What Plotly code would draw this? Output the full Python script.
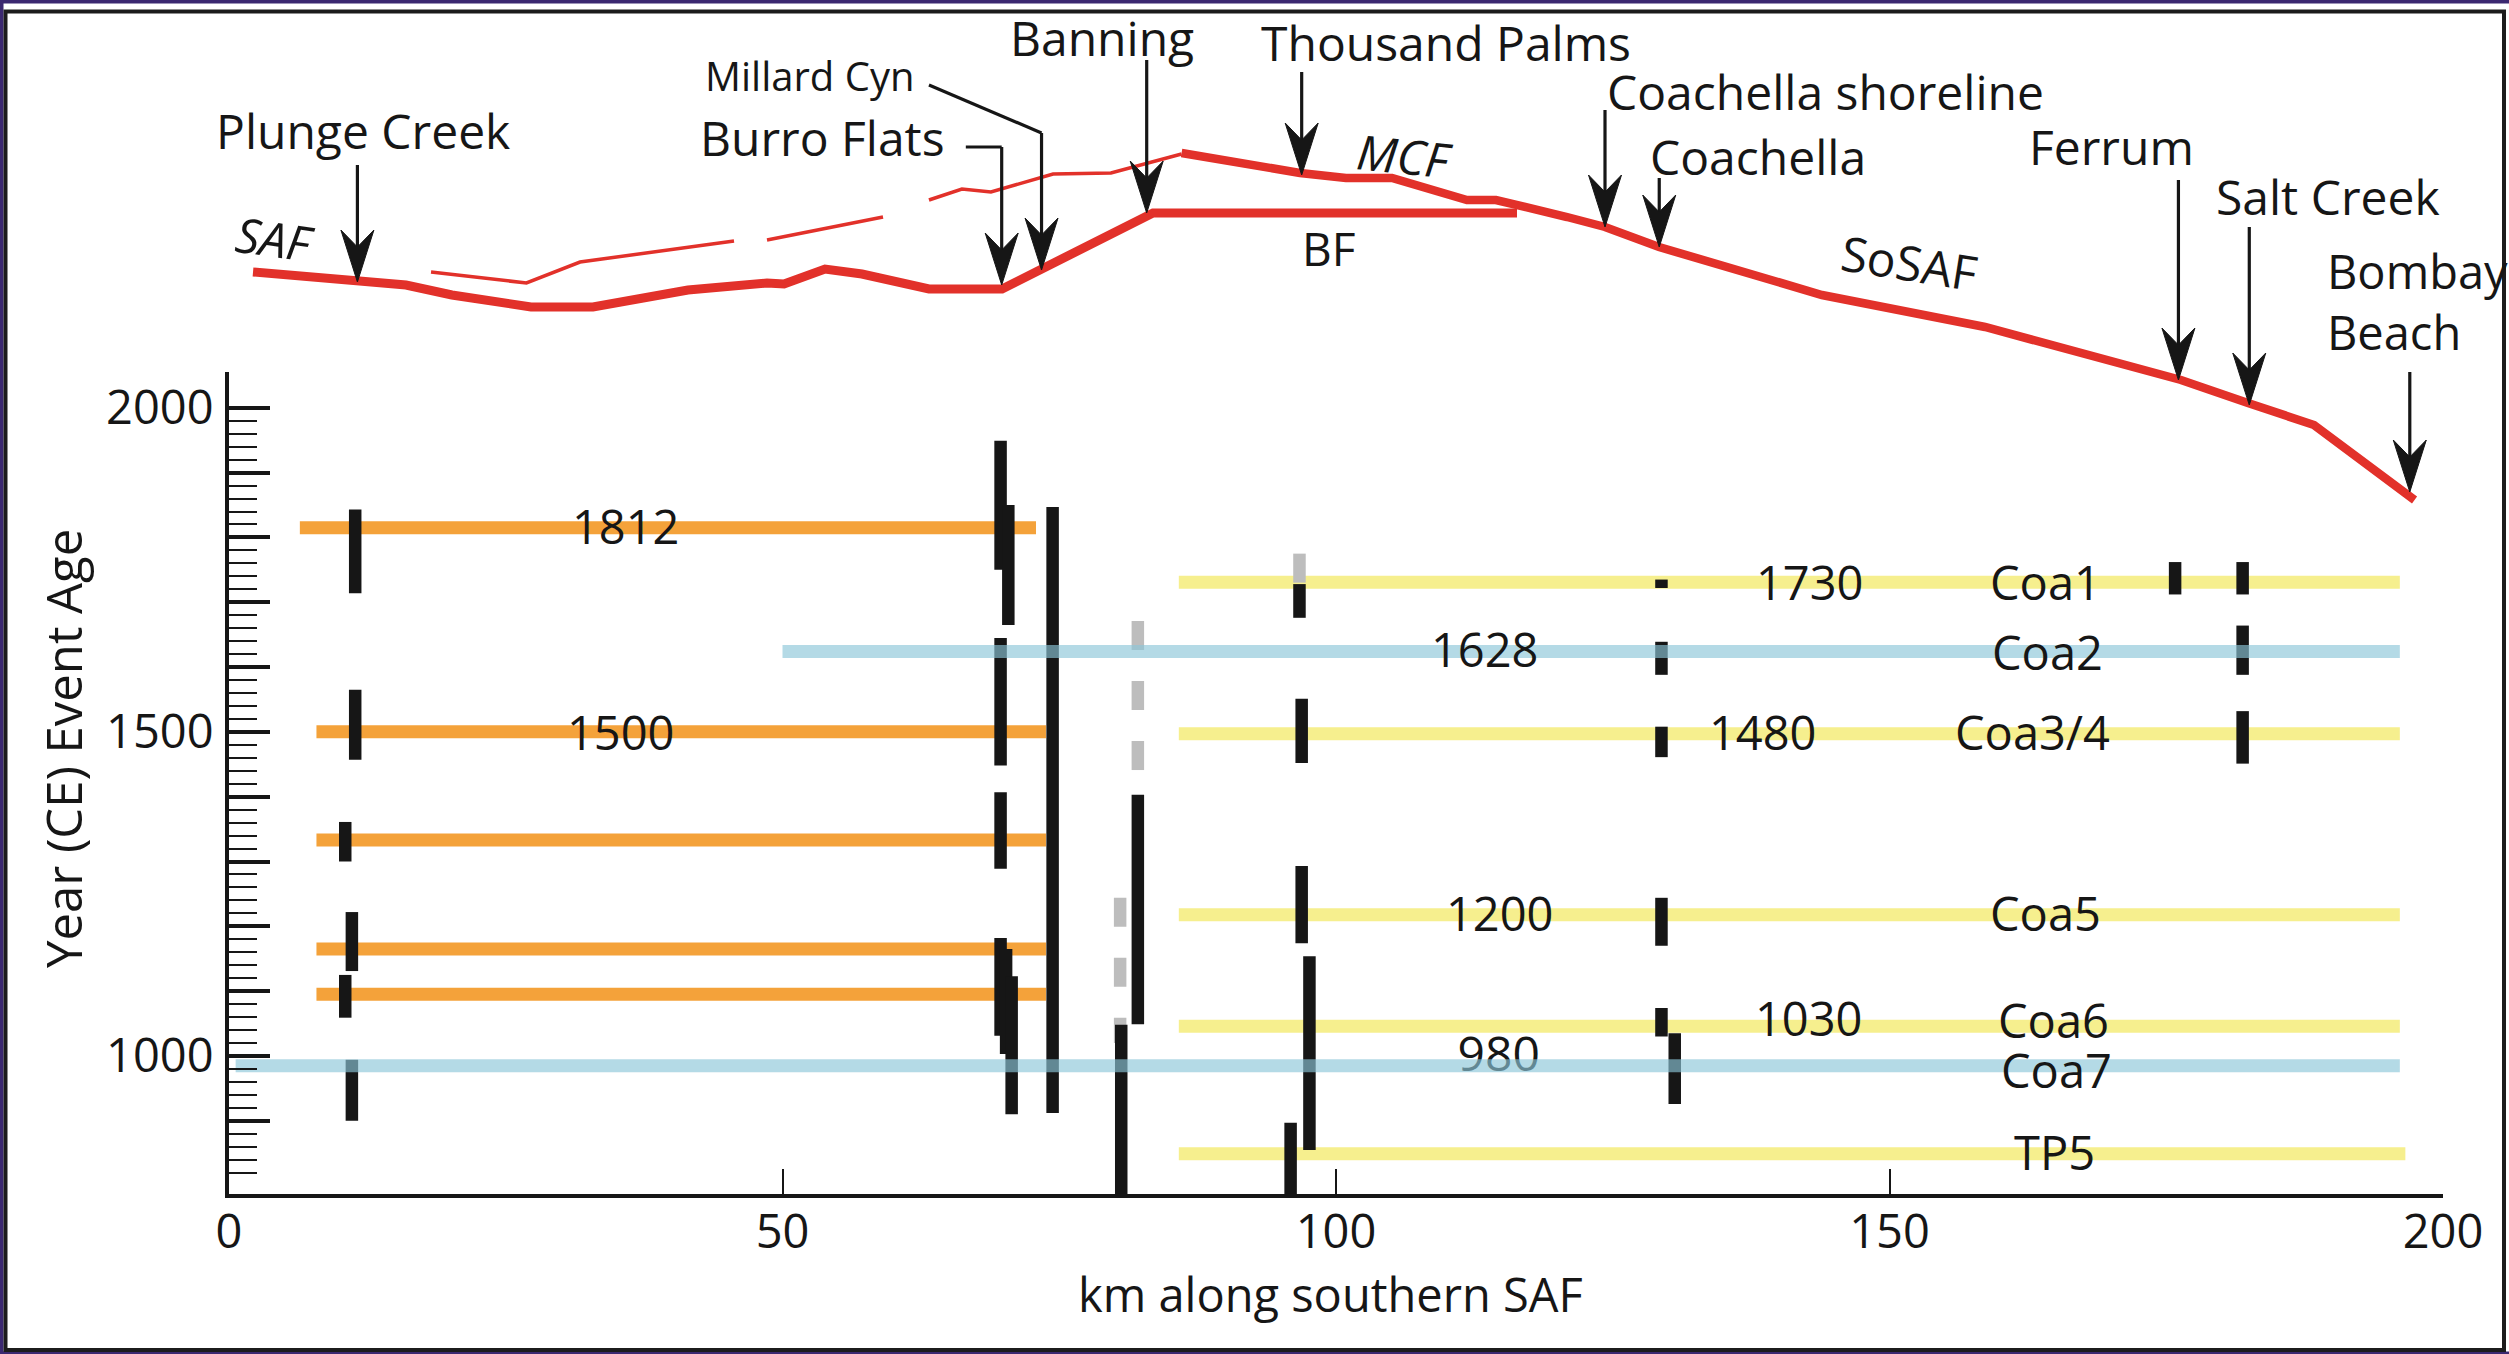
import plotly.graph_objects as go

# ------------------------------------------------------------------ data
# horizontal correlation lines: year, start km, end km
orange_year = [1815, 1500, 1333, 1165, 1095]
orange_start = [6.4, 7.9, 7.9, 7.9, 7.9]
orange_end = [72.9, 73.8, 73.8, 73.8, 73.8]

yellow_year = [1731, 1497, 1218, 1046, 849]
yellow_start = [85.8, 85.8, 85.8, 85.8, 85.8]
yellow_end = [196.1, 196.1, 196.1, 196.1, 196.6]

blue_year = [1624, 985]
blue_start = [50.0, 0.6]
blue_end = [196.1, 196.1]

# site event-age ranges: km, young end, old end
bar_km = [11.4, 11.4, 10.5, 11.1, 10.5, 11.1,
          69.7, 70.4, 69.7, 69.7, 69.7, 70.2, 70.7, 74.4,
          82.1, 80.6,
          96.7, 96.9, 96.9, 97.6, 95.9,
          129.4, 129.4, 129.4, 129.4, 129.4, 130.6,
          175.8, 181.9, 181.9, 181.9]
bar_young = [1843, 1565, 1361, 1222, 1125, 994,
             1949, 1850, 1645, 1407, 1182, 1165, 1123, 1847,
             1403, 1048,
             1728, 1551, 1293, 1154, 897,
             1735, 1639, 1508, 1244, 1074, 1035,
             1762, 1762, 1664, 1532]
bar_old = [1714, 1457, 1300, 1131, 1059, 900,
           1750, 1665, 1448, 1289, 1031, 1003, 910, 912,
           1049, 787,
           1676, 1452, 1174, 855, 787,
           1722, 1588, 1461, 1170, 1030, 926,
           1712, 1712, 1588, 1451]

# uncertain (grey dashed) ranges
grey_km = [82.1, 80.5, 96.7]
grey_young = [1671, 1244, 1775]
grey_old = [1429, 1020, 1728]

# event labels in the chart body
label_text = ["1812", "1500", "1628", "1730", "Coa1", "Coa2", "1480", "Coa3/4",
              "1200", "Coa5", "1030", "Coa6", "Coa7", "TP5"]
label_km = [35.9, 35.4, 113.5, 142.8, 164.1, 164.3, 138.6, 162.9,
            114.8, 164.1, 142.7, 164.8, 165.1, 164.9]
label_year = [1818, 1500, 1628, 1731, 1731, 1623, 1500, 1500,
              1221, 1221, 1059, 1056, 979, 852]
faint_label = "980"
faint_km = 114.7
faint_year = 995

# schematic fault traces (km along fault, schematic map offset)
saf_km = [2.17, 11.56, 15.99, 20.14, 27.28, 32.88, 41.46, 48.60, 50.14, 53.84,
          57.18, 63.23, 69.83, 83.47, 116.35]
saf_off = [1082, 1073, 1069, 1059, 1047, 1047, 1064, 1071, 1070, 1085,
           1080, 1065, 1065, 1141, 1141]
sosaf_km = [86.05, 96.75, 100.9, 105.06, 111.83, 114.45, 120.87, 124.3, 129.18,
            143.9, 158.63, 172.18, 176.33, 182.38, 188.35, 197.43]
sosaf_off = [1201, 1181, 1176, 1176, 1154, 1154, 1137, 1127, 1107,
             1059, 1027, 987, 974, 951, 929, 854]
thin_km = [18.25, 26.87, 31.71, 36.22, 45.62, None, 48.6, 59.08, None,
           63.23, 66.21, 68.83, 74.44, 79.67, 86.05]
thin_off = [1082, 1071, 1092, 1099, 1113, None, 1114, 1137, None,
            1154, 1165, 1162, 1180, 1181, 1200]

# site arrows
site_name = ["Plunge Creek", "Burro Flats", "Millard Cyn", "Banning", "Thousand Palms",
             "Coachella shoreline", "Coachella", "Ferrum", "Salt Creek", "Bombay<br>Beach"]
arrow_km = [11.6, 69.8, 73.4, 82.9, 96.9, 124.3, 129.2, 176.1, 182.5, 197.0]
arrow_tip = [1072, 1069, 1084, 1141, 1179, 1127, 1107, 974, 949, 862]
arrow_top = [1189, 1207, 1221, 1294, 1282, 1244, 1176, 1174, 1127, 982]
site_label_km = [12.1, 53.57, 52.48, 78.86, 109.94, 144.26, 138.12, 170.01, 189.61, 189.34]
site_label_off = [1223.5, 1216.5, 1279, 1316.5, 1311.5, 1263, 1197.5, 1207.5, 1157.5, 1052.5]
burro_leader_km = [66.56, 69.8]
burro_leader_off = [1207, 1207]
millard_leader_km = [63.23, 73.4]
millard_leader_off = [1269, 1221]

fault_name = ["<i>SAF</i>", "<i>MCF</i>", "BF", "SoSAF"]
fault_label_km = [4.16, 106.23, 99.28, 151.85]
fault_label_off = [1116, 1199, 1106, 1092]
fault_label_angle = [8, 6, 0, 9]

x_tick_vals = [0, 50, 100, 150, 200]
x_tick_text = ["0", "50", "100", "150", "200"]
y_tick_vals = [900, 1000, 1100, 1200, 1300, 1400, 1500, 1600, 1700, 1800, 1900, 2000]
y_tick_text = ["", "1000", "", "", "", "", "1500", "", "", "", "", "2000"]
y_minor_vals = [v for v in range(820, 2000, 20) if v % 100 != 0]

# ------------------------------------------------------------------ styles
FONT = "Open Sans"
ORANGE = "#f4a23a"
YELLOW = "#f6ef8e"
BLUE = "rgba(140,198,216,0.65)"
RED = "#e2312a"
BLACK = "#161616"
GREY = "#bdbdbd"
L, R, T, B = 229, 66, 20, 160
W_PX, H_PX = 2509, 1354
PLOT_W = W_PX - L - R
PLOT_H = H_PX - T - B
PX_PER_KM = PLOT_W / 200.0


def hsegs(starts, ends, ys):
    xs, yv = [], []
    for s, e, y in zip(starts, ends, ys):
        xs += [s, e, None]
        yv += [y, y, None]
    return xs, yv


def vsegs(kms, tops, bots):
    xs, yv = [], []
    for k, a, b in zip(kms, tops, bots):
        xs += [k, k, None]
        yv += [a, b, None]
    return xs, yv


fig = go.Figure()

for starts, ends, ys, col in [(orange_start, orange_end, orange_year, ORANGE),
                              (yellow_start, yellow_end, yellow_year, YELLOW)]:
    xs, yv = hsegs(starts, ends, ys)
    fig.add_trace(go.Scatter(x=xs, y=yv, mode="lines", line=dict(color=col, width=13),
                             hoverinfo="skip"))

xs, yv = vsegs(grey_km, grey_young, grey_old)
fig.add_trace(go.Scatter(x=xs, y=yv, mode="lines",
                         line=dict(color=GREY, width=12.5, dash="29px,31px"), hoverinfo="skip"))
xs, yv = vsegs(bar_km, bar_young, bar_old)
fig.add_trace(go.Scatter(x=xs, y=yv, mode="lines", line=dict(color=BLACK, width=12.5),
                         hoverinfo="skip"))

fig.add_trace(go.Scatter(x=[faint_km], y=[faint_year], mode="text", text=[faint_label],
                         textposition="middle center",
                         textfont=dict(family=FONT, size=48, color=BLACK), hoverinfo="skip"))

xs, yv = hsegs(blue_start, blue_end, blue_year)
fig.add_trace(go.Scatter(x=xs, y=yv, mode="lines", line=dict(color=BLUE, width=13),
                         hoverinfo="skip"))

# fault traces (schematic)
fig.add_trace(go.Scatter(x=thin_km, y=thin_off, yaxis="y2", mode="lines",
                         line=dict(color=RED, width=3.5), hoverinfo="skip"))
fig.add_trace(go.Scatter(x=saf_km, y=saf_off, yaxis="y2", mode="lines",
                         line=dict(color=RED, width=9), hoverinfo="skip"))
fig.add_trace(go.Scatter(x=sosaf_km, y=sosaf_off, yaxis="y2", mode="lines",
                         line=dict(color=RED, width=8.5), hoverinfo="skip"))

# arrows
HEAD_L, HEAD_W, HEAD_N = 52, 16.5, 35
sx, sy = [], []
for k, tip, top in zip(arrow_km, arrow_tip, arrow_top):
    sx += [k, k, None]
    sy += [top, tip + HEAD_N - 4, None]
for lk, lo in [(burro_leader_km, burro_leader_off), (millard_leader_km, millard_leader_off)]:
    sx += lk + [None]
    sy += lo + [None]
fig.add_trace(go.Scatter(x=sx, y=sy, yaxis="y2", mode="lines",
                         line=dict(color=BLACK, width=3.2), hoverinfo="skip"))
hx, hy = [], []
dk = HEAD_W / PX_PER_KM
for k, tip in zip(arrow_km, arrow_tip):
    hx += [k, k + dk, k, k - dk, k, None]
    hy += [tip, tip + HEAD_L, tip + HEAD_N, tip + HEAD_L, tip, None]
fig.add_trace(go.Scatter(x=hx, y=hy, yaxis="y2", mode="lines", fill="toself",
                         fillcolor=BLACK, line=dict(color=BLACK, width=1), hoverinfo="skip"))

ann = []
for t, k, yr in zip(label_text, label_km, label_year):
    ann.append(dict(x=k, y=yr, xref="x", yref="y", text=t, showarrow=False,
                    xanchor="center", yanchor="middle",
                    font=dict(family=FONT, size=47, color=BLACK)))
for t, k, o in zip(site_name, site_label_km, site_label_off):
    d = dict(x=k, y=o, xref="x", yref="y2", text=t, showarrow=False,
             xanchor="center", yanchor="middle",
             font=dict(family=FONT, size=40 if t == "Millard Cyn" else 48, color=BLACK))
    if "<br>" in t:
        d.update(xanchor="left", align="left", font=dict(family=FONT, size=47, color=BLACK))
    ann.append(d)
for t, k, o, a in zip(fault_name, fault_label_km, fault_label_off, fault_label_angle):
    ann.append(dict(x=k, y=o, xref="x", yref="y2", text=t, showarrow=False, textangle=a,
                    xanchor="center", yanchor="middle",
                    font=dict(family=FONT, size=46 if t == "BF" else 48, color=BLACK)))


def pxx(px):
    return (px - L) / PLOT_W


def pxy(py):
    return (H_PX - B - py) / PLOT_H


ann.append(dict(x=pxx(63), y=pxy(749), xref="paper", yref="paper", text="Year (CE) Event Age",
                textangle=-90, showarrow=False, xanchor="center", yanchor="middle",
                font=dict(family=FONT, size=49, color=BLACK)))
ann.append(dict(x=pxx(1330), y=pxy(1294), xref="paper", yref="paper", text="km along southern SAF",
                showarrow=False, xanchor="center", yanchor="middle",
                font=dict(family=FONT, size=47, color=BLACK)))

PURPLE = "#3b2870"
shapes = [
    dict(type="rect", xref="paper", yref="paper", x0=pxx(0), x1=pxx(W_PX), y0=pxy(0), y1=pxy(3.5),
         fillcolor=PURPLE, line=dict(width=0), layer="above"),
    dict(type="rect", xref="paper", yref="paper", x0=pxx(0), x1=pxx(3.5), y0=pxy(0), y1=pxy(H_PX),
         fillcolor=PURPLE, line=dict(width=0), layer="above"),
    dict(type="rect", xref="paper", yref="paper", x0=pxx(0), x1=pxx(W_PX), y0=pxy(1351.5), y1=pxy(H_PX),
         fillcolor=PURPLE, line=dict(width=0), layer="above"),
    dict(type="rect", xref="paper", yref="paper", x0=pxx(5.5), x1=pxx(2504), y0=pxy(11.5), y1=pxy(1350),
         fillcolor="rgba(0,0,0,0)", line=dict(width=4, color="#1c1c1c"), layer="above"),
]

y_top_frac = (H_PX - B - 371.5) / PLOT_H

fig.update_layout(
    width=W_PX, height=H_PX,
    margin=dict(l=L, r=R, t=T, b=B, pad=0),
    paper_bgcolor="white", plot_bgcolor="rgba(0,0,0,0)",
    showlegend=False,
    font=dict(family=FONT, size=48, color=BLACK),
    xaxis=dict(range=[0, 200], domain=[0, 1], anchor="y", showgrid=False, zeroline=False,
               showline=True, linecolor=BLACK, linewidth=4, ticks="inside", ticklen=25,
               tickwidth=2, tickcolor=BLACK, tickmode="array", tickvals=x_tick_vals,
               ticktext=x_tick_text, tickfont=dict(family=FONT, size=47, color=BLACK),
               ticklabelstandoff=-6, fixedrange=True),
    yaxis=dict(range=[787, 2056], domain=[0, y_top_frac], anchor="x", showgrid=False,
               zeroline=False, showline=True, linecolor=BLACK, linewidth=4, ticks="inside",
               ticklen=41, tickwidth=3.5, tickcolor=BLACK, tickmode="array",
               tickvals=y_tick_vals, ticktext=y_tick_text,
               minor=dict(tickmode="array", tickvals=y_minor_vals, ticks="inside", ticklen=28,
                          tickwidth=1.5, tickcolor=BLACK, showgrid=False),
               tickfont=dict(family=FONT, size=47, color=BLACK), ticklabelstandoff=2,
               fixedrange=True),
    yaxis2=dict(range=[B, H_PX - T], domain=[0, 1], anchor="x", visible=False, fixedrange=True),
    annotations=ann,
    shapes=shapes,
)

fig.write_html("out.html", config={"displayModeBar": False},
               post_script="document.body.style.margin='0px';document.body.style.overflow='hidden';")
